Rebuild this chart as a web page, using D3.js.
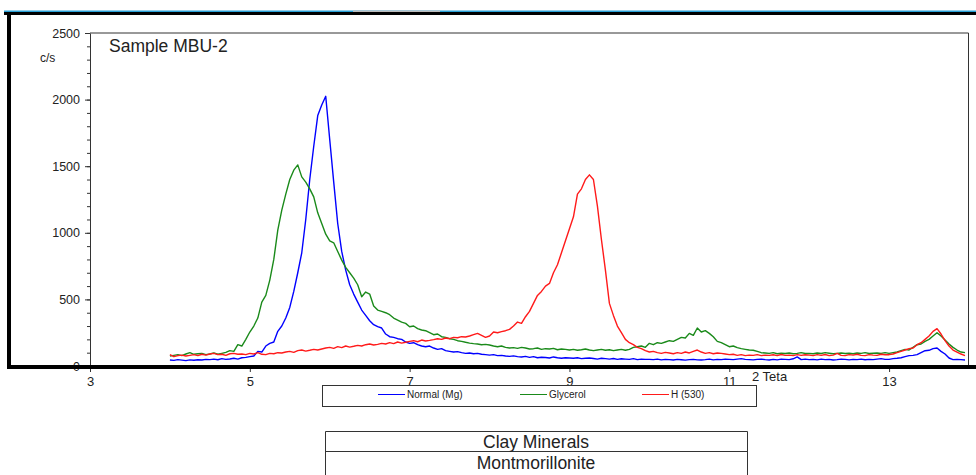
<!DOCTYPE html>
<html>
<head>
<meta charset="utf-8">
<script src="https://cdn.jsdelivr.net/npm/d3@7"></script>
<style>
  body { margin: 0; background: #fff; }
  text { font-family: "Liberation Sans", Arial, sans-serif; fill: #222; }
</style>
</head>
<body>
<svg id="chart" width="976" height="475"></svg>
<script>
// sampling grid of the diffractogram (2 Teta)
const thetaStart = 4.0;
const thetaStep = 0.05;

// c/s values, one row per degree (4.00 .. 13.95)
const normalMg = [
  45,42,48,44,40,46,43,47,45,50,48,52,47,55,50,53,58,52,62,65,
  70,75,110,105,150,170,180,260,300,360,440,560,700,850,1100,1400,1650,1880,1960,2025,
  1700,1380,1070,860,720,610,540,480,420,380,340,310,295,285,240,220,215,205,200,180,
  170,175,160,150,145,150,135,125,130,115,110,105,108,100,95,98,92,95,88,85,
  82,85,78,80,75,72,76,70,68,72,65,70,62,66,64,60,68,62,58,62,
  60,58,62,55,58,60,56,52,58,55,52,56,50,54,52,50,55,48,52,50,
  50,48,52,46,50,48,45,50,47,44,48,50,46,45,48,52,46,50,48,52,
  50,48,52,55,50,48,46,50,52,48,45,50,46,52,50,48,54,68,48,52,
  48,50,46,52,48,50,45,48,52,50,46,50,48,52,47,50,48,52,55,50,
  50,55,58,62,70,78,80,85,100,115,118,130,135,110,90,60,48,50,48,45
];
const glycerol = [
  75,80,85,78,90,100,88,92,95,85,90,98,88,95,102,115,110,160,150,200,
  255,300,360,480,530,645,800,1020,1170,1290,1400,1470,1510,1420,1380,1330,1270,1150,1070,990,
  940,925,860,795,740,700,660,610,520,555,540,450,420,410,400,385,360,345,330,320,
  295,300,280,270,265,250,235,240,220,215,205,200,190,185,178,172,168,165,160,162,
  158,150,145,150,140,135,138,132,140,135,128,130,135,125,130,128,132,122,128,125,
  120,125,118,122,128,120,115,120,125,118,122,115,120,125,118,125,140,145,150,140,
  170,160,175,170,180,190,185,200,215,210,245,230,285,255,265,245,220,185,175,160,
  145,150,138,130,125,120,118,110,100,98,95,100,92,96,94,98,92,95,100,94,
  95,92,98,94,100,96,92,95,98,94,96,92,98,95,100,94,96,98,95,100,
  95,100,105,115,125,120,140,160,165,185,200,225,250,225,195,165,140,120,105,100
];
const h530 = [
  85,70,78,82,75,80,85,78,88,82,90,95,85,88,80,92,95,88,90,85,
  95,90,100,88,85,95,92,100,98,105,110,102,115,120,112,118,125,120,128,135,
  140,132,145,138,150,142,148,155,150,160,165,158,162,170,165,175,168,180,172,178,
  185,190,182,195,188,192,198,205,200,210,205,215,212,220,218,225,235,245,230,215,
  225,255,250,258,265,275,300,330,320,370,410,470,530,560,600,620,700,760,850,940,
  1030,1120,1290,1330,1400,1435,1400,1200,950,720,470,380,300,250,200,175,160,140,130,115,
  105,110,100,95,102,98,92,100,95,105,98,110,120,105,95,100,92,98,95,90,
  85,88,80,85,78,82,80,85,78,82,80,84,78,86,80,82,78,85,80,84,
  82,78,85,80,86,78,82,95,80,78,85,82,88,80,78,85,82,80,88,84,
  85,90,100,110,120,130,135,160,175,200,225,260,280,240,190,150,120,105,90,78
];

const seriesNames = ["Normal (Mg)", "Glycerol", "H (530)"];
const seriesColors = ["#0000ff", "#1a8a1a", "#ff1a1a"];
const xTicks = [3, 5, 7, 9, 11, 13];
const yTicks = [0, 500, 1000, 1500, 2000, 2500];
const tableRows = ["Clay Minerals", "Montmorillonite"];

const svg = d3.select("#chart");

const x = d3.scaleLinear().domain([3, 14]).range([90, 969]);
const y = d3.scaleLinear().domain([0, 2500]).range([366, 33]);

// plot frame (top + right)
svg.append("path")
  .attr("d", `M${x(3)},${y(2500)}H${x(14) - 0.5}V${y(0)}`)
  .attr("fill", "none")
  .attr("stroke", "#333")
  .attr("stroke-width", 1);

// minor y ticks
const yMinor = svg.append("g")
  .attr("transform", `translate(${x(3)},0)`)
  .call(d3.axisLeft(y).tickValues(d3.range(0, 2501, 100)).tickSize(3).tickFormat(""));
yMinor.select(".domain").remove();
yMinor.selectAll("line").attr("stroke", "#333");

// y axis
const yAxis = svg.append("g")
  .attr("transform", `translate(${x(3)},0)`)
  .call(d3.axisLeft(y).tickValues(yTicks).tickFormat(d3.format("d"))
    .tickSize(5).tickPadding(5).tickSizeOuter(0));
yAxis.select(".domain").attr("stroke", "#333");
yAxis.selectAll("line").attr("stroke", "#333");
yAxis.selectAll("text").style("font-size", "12.5px").style("font-family", "Liberation Sans, Arial").attr("fill", "#222");

// x axis
const xAxis = svg.append("g")
  .attr("transform", `translate(0,${y(0)})`)
  .call(d3.axisBottom(x).tickValues(xTicks).tickSize(6).tickPadding(5).tickSizeOuter(0));
xAxis.select(".domain").attr("stroke", "#333");
xAxis.selectAll("line").attr("stroke", "#333");
xAxis.selectAll("text").style("font-size", "13px").style("font-family", "Liberation Sans, Arial").attr("fill", "#222");

// curves
const line = d3.line()
  .x((d, i) => x(thetaStart + i * thetaStep))
  .y(d => y(d));

[normalMg, glycerol, h530].forEach((s, k) => {
  svg.append("path")
    .datum(s)
    .attr("d", line)
    .attr("fill", "none")
    .attr("stroke", seriesColors[k])
    .attr("stroke-width", 1.4)
    .attr("stroke-linejoin", "round");
});

// labels
svg.append("text").attr("x", 40).attr("y", 62).style("font-size", "12px").text("c/s");
svg.append("text").attr("x", 109).attr("y", 52).style("font-size", "17.5px").text("Sample MBU-2");
svg.append("text").attr("x", 752).attr("y", 381).style("font-size", "13px").text("2 Teta");

// outer page border (thick black)
svg.append("rect").attr("x", 4).attr("y", 10.5).attr("width", 972).attr("height", 1.5).attr("fill", "#29a0d6");
svg.append("rect").attr("x", 353).attr("y", 10.5).attr("width", 87).attr("height", 1.5).attr("fill", "#bbb");
svg.append("rect").attr("x", 4).attr("y", 12).attr("width", 972).attr("height", 3).attr("fill", "#000");
svg.append("rect").attr("x", 7).attr("y", 12).attr("width", 4).attr("height", 357).attr("fill", "#000");
svg.append("rect").attr("x", 7).attr("y", 365).attr("width", 969).attr("height", 4).attr("fill", "#000");

// legend
const legend = svg.append("g");
legend.append("rect")
  .attr("x", 322.5).attr("y", 385.5).attr("width", 434).attr("height", 21)
  .attr("fill", "#fff").attr("stroke", "#333");
const legX = [378, 520, 642];
seriesNames.forEach((n, k) => {
  legend.append("line")
    .attr("x1", legX[k]).attr("x2", legX[k] + 27)
    .attr("y1", 394.5).attr("y2", 394.5)
    .attr("stroke", seriesColors[k]).attr("stroke-width", 1);
  legend.append("text")
    .attr("x", legX[k] + 29).attr("y", 398)
    .style("font-size", "10px")
    .text(n);
});

// info table
const table = svg.append("g");
table.append("path")
  .attr("d", "M325.5,476V431.5H747.5V476M325.5,451.5H747.5")
  .attr("fill", "none").attr("stroke", "#333");
tableRows.forEach((t, i) => {
  table.append("text")
    .attr("x", 536).attr("y", 447.5 + i * 21.5)
    .attr("text-anchor", "middle")
    .style("font-size", "17.5px")
    .text(t);
});
</script>
</body>
</html>
